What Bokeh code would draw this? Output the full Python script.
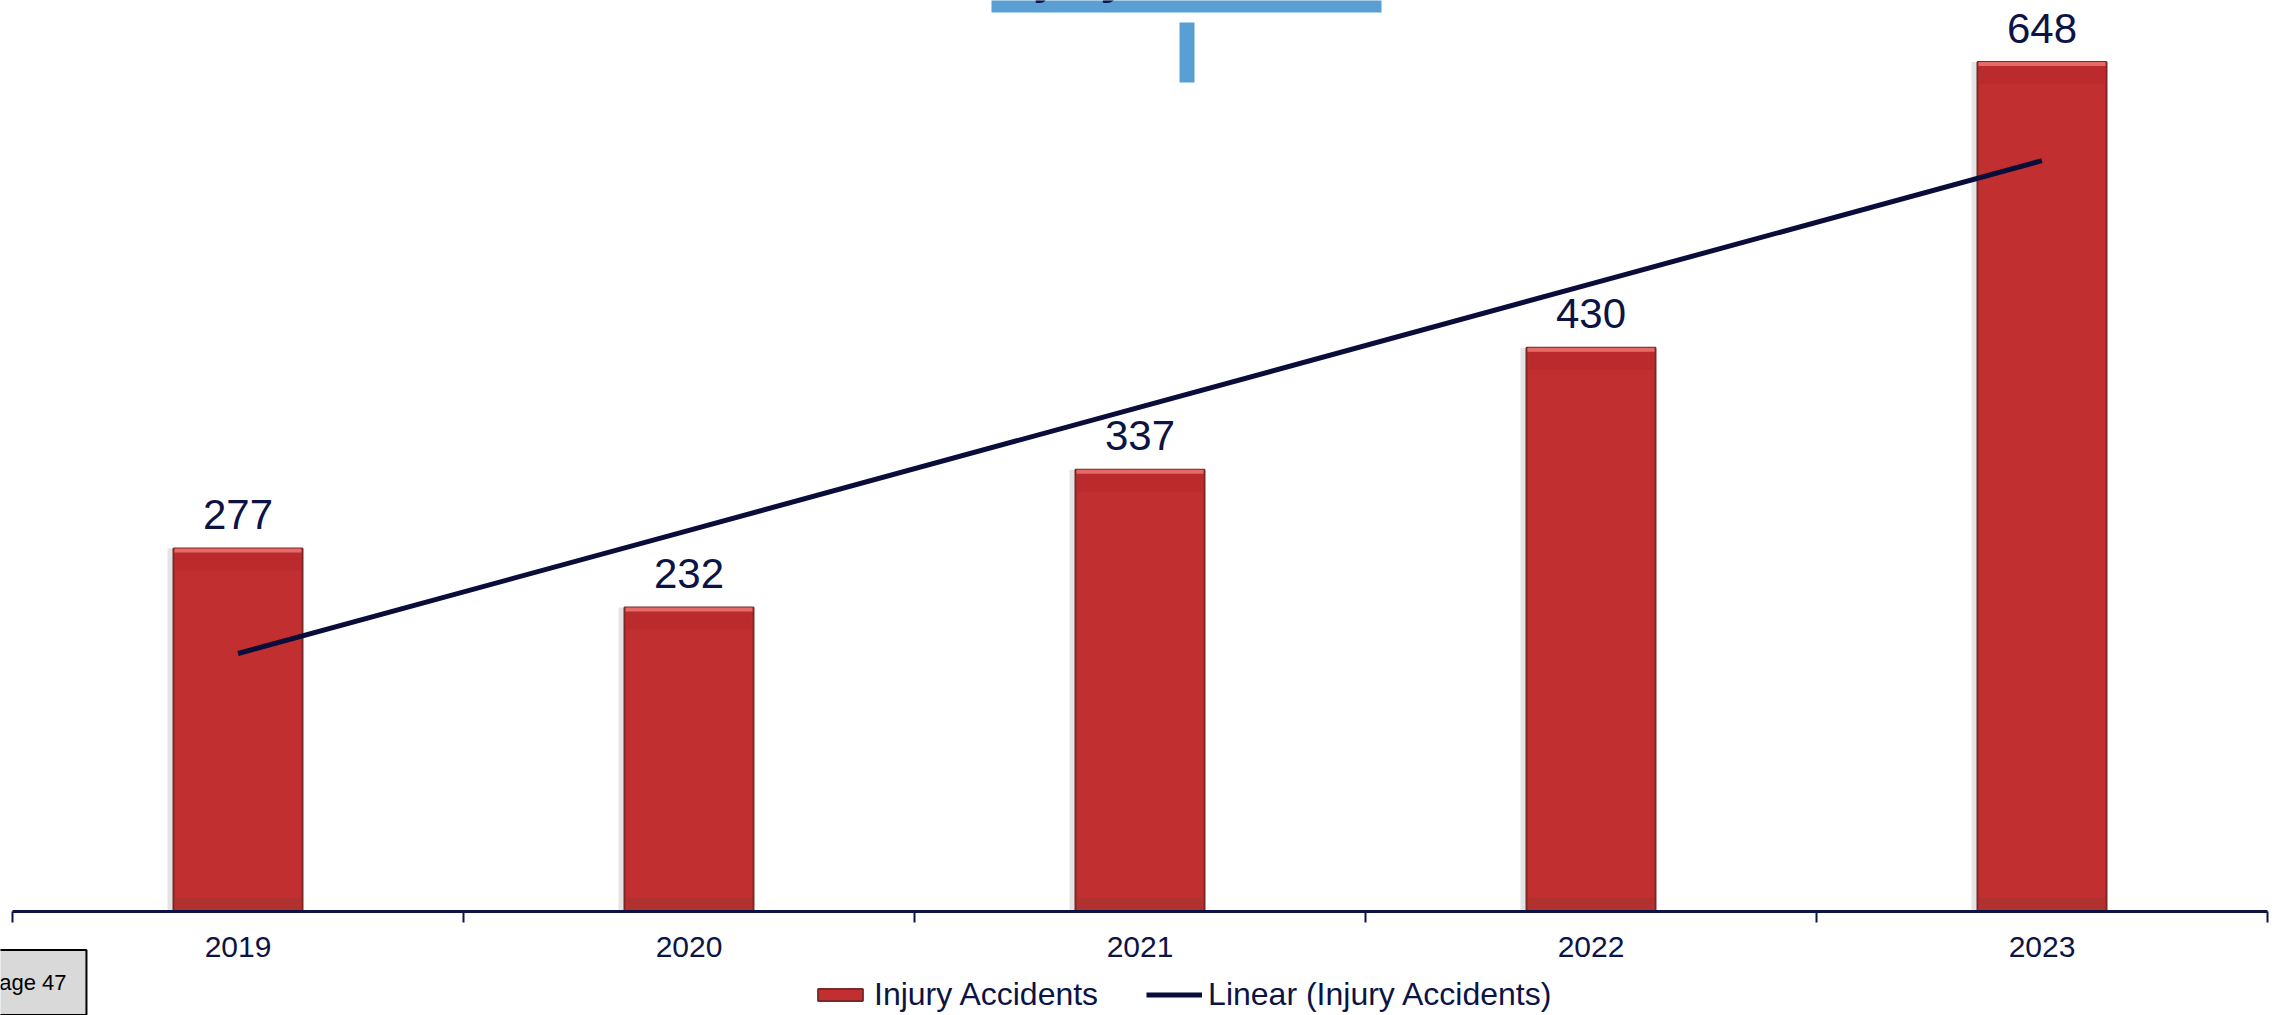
import numpy as np
from bokeh.plotting import figure
from bokeh.models import (Range1d, FixedTicker, Legend, LegendItem, Label,
                          ColumnDataSource, LinearAxis)
from bokeh.core.properties import value
from bokeh.embed import file_html
from bokeh.resources import INLINE

# Data
years = ["2019", "2020", "2021", "2022", "2023"]
injury_accidents = [277, 232, 337, 430, 648]

# Linear trend of the series (least squares)
xs = np.arange(1, len(years) + 1)
slope, intercept = np.polyfit(xs, injury_accidents, 1)
trend = slope * xs + intercept

FONT = "Liberation Sans"
NAVY = "#0c1445"
BAR_RED = "#c22f30"

W, H = 2280, 1015
AXIS_LEFT_PX, AXIS_RIGHT_PX, AXIS_Y_PX = 12, 2267, 911
Y_MAX = 695
BAR_W = 0.286

px_per_x = (AXIS_RIGHT_PX - AXIS_LEFT_PX) / len(years)
px_per_y = AXIS_Y_PX / Y_MAX
x_start = 0.5 - AXIS_LEFT_PX / px_per_x
x_end = len(years) + 0.5 + (W - AXIS_RIGHT_PX) / px_per_x
y_start = -(H - AXIS_Y_PX) / px_per_y

p = figure(width=W, height=H, output_backend="svg", toolbar_location=None,
           x_range=Range1d(x_start, x_end), y_range=Range1d(y_start, Y_MAX),
           x_axis_location=None, y_axis_location=None,
           min_border=0)
p.outline_line_color = None
p.grid.visible = False
p.background_fill_color = "white"
p.border_fill_color = "white"


def px_x(px):
    return x_start + px / px_per_x


def px_y(py):
    return Y_MAX - py / px_per_y


src = ColumnDataSource(dict(
    x=xs, v=injury_accidents, label=[str(v) for v in injury_accidents],
    shadow_l=xs - BAR_W / 2 - 6 / px_per_x, shadow_r=xs - BAR_W / 2,
    hl_top=np.array(injury_accidents),
    hl_bot=np.array(injury_accidents) - 4 / px_per_y,
    band_bot=np.array(injury_accidents) - 22 / px_per_y,
    base_top=np.full(len(years), 14 / px_per_y),
))

# soft shadow to the left of each bar
p.quad(left="shadow_l", right="shadow_r", bottom=0, top="v", source=src,
       fill_color="#e4e4e4", line_color=None)

bars = p.vbar(x="x", top="v", bottom=0, width=BAR_W, source=src,
              fill_color=BAR_RED, line_color="#7a2828", line_width=2)
# darker band under the top, glossy highlight on top, shaded base
p.vbar(x="x", top="hl_bot", bottom="band_bot", width=BAR_W - 4 / px_per_x,
       source=src, fill_color="#b3272a", fill_alpha=0.45, line_color=None)
p.vbar(x="x", top="hl_top", bottom="hl_bot", width=BAR_W - 2 / px_per_x,
       source=src, fill_color="#e66a68", line_color=None)
p.vbar(x="x", top="base_top", bottom=0, width=BAR_W - 4 / px_per_x,
       source=src, fill_color="#a0332b", fill_alpha=0.5, line_color=None)

trend_line = p.line(xs, trend, line_color="#0a0c3a", line_width=5)

p.text(x="x", y="v", text="label", source=src, y_offset=-34,
       text_align="center", text_baseline="alphabetic",
       text_font=value(FONT), text_font_size="42px", text_color=NAVY)

# title banner at the top edge
p.quad(left=px_x(991), right=px_x(1381), bottom=px_y(12), top=Y_MAX + 5,
       fill_color="#5a9fd4", line_color=None)
p.quad(left=px_x(1179), right=px_x(1194), bottom=px_y(82), top=px_y(22),
       fill_color="#5a9fd4", line_color=None)
p.text(x=[px_x(1186)], y=[Y_MAX], text=["Injury Accidents"], y_offset=-25,
       text_align="center", text_baseline="alphabetic",
       text_font=value(FONT), text_font_style="bold", text_font_size="50px",
       text_color=NAVY)

# category axis at zero with boundary ticks
ax = LinearAxis(fixed_location=0, bounds=(0.5, len(years) + 0.5))
ax.ticker = FixedTicker(ticks=list(xs),
                        minor_ticks=[i + 0.5 for i in range(len(years) + 1)])
ax.major_label_overrides = {int(i): y for i, y in zip(xs, years)}
ax.major_tick_line_color = None
ax.major_tick_out = 10
ax.major_tick_in = 0
ax.minor_tick_out = 11
ax.minor_tick_in = 0
ax.minor_tick_line_color = NAVY
ax.minor_tick_line_width = 2
ax.axis_line_color = NAVY
ax.axis_line_width = 3
ax.major_label_standoff = 14
ax.major_label_text_font = FONT
ax.major_label_text_font_size = "30px"
ax.major_label_text_color = NAVY
p.add_layout(ax, "below")

legend = Legend(items=[LegendItem(label="Injury Accidents", renderers=[bars]),
                       LegendItem(label="Linear (Injury Accidents)",
                                  renderers=[trend_line])],
                orientation="horizontal", location=(812, 2),
                border_line_color=None, background_fill_alpha=0,
                label_text_font=FONT, label_text_font_size="32px",
                label_text_color=NAVY, glyph_width=56, glyph_height=15,
                label_standoff=6, spacing=48, padding=0, margin=0)
p.add_layout(legend)

page_box = Label(x=-36, y=H - 982, x_units="screen", y_units="screen",
                 text="Page 47", text_font=FONT, text_font_size="22px",
                 text_color="black", text_baseline="middle",
                 background_fill_color="#d9d9d9", border_line_color="black",
                 border_line_width=2, padding=20)
p.add_layout(page_box)

open("out.html", "w").write(file_html(p, INLINE))
